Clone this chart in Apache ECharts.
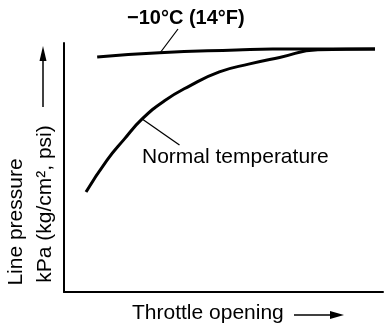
<!DOCTYPE html>
<html>
<head>
<meta charset="utf-8">
<script src="https://cdn.jsdelivr.net/npm/echarts@6/dist/echarts.min.js"></script>
<style>html,body{margin:0;padding:0;background:#fff}#c{width:384px;height:336px}</style>
</head>
<body>
<div id="c"></div>
<script>
// Throttle opening (relative %), line pressure (relative %)
var coldX = [10.4, 29.9, 54.1, 65.4, 97.5];
var coldY = [94.4, 96.1, 97.2, 97.6, 97.6];
var normalX = [6.9, 13.5, 18.9, 24.5, 31.4, 39.3, 48.7, 58.2, 67.6, 79.6, 97.5];
var normalY = [40.2, 53.0, 61.4, 69.5, 76.7, 82.7, 88.4, 91.6, 94.2, 97.3, 97.6];
var coldLabel = '\u221210\u00B0C (14\u00B0F)';
var normalLabel = 'Normal temperature';
var xName = 'Throttle opening';
var yName1 = 'Line pressure';
var yName2 = 'kPa (kg/cm\u00B2, psi)';
// leader line in data coordinates
var normalLeader = [[24.5, 69.5], [36.2, 59.0]];

function pairs(xs, ys){ return xs.map(function(x,i){return [x, ys[i]];}); }

var chart = echarts.init(document.getElementById('c'), null, {renderer:'canvas'});
var font = 'Liberation Sans, Arial, Helvetica, sans-serif';
chart.setOption({
  animation: false,
  backgroundColor: '#fff',
  grid: {left: 64, right: 1, top: 43, bottom: 44},
  xAxis: {type:'value', min:0, max:100, axisLine:{show:true, onZero:false, lineStyle:{color:'#000', width:2}},
          axisTick:{show:false}, axisLabel:{show:false}, splitLine:{show:false}},
  yAxis: {type:'value', min:0, max:100, axisLine:{show:true, onZero:false, lineStyle:{color:'#000', width:2}},
          axisTick:{show:false}, axisLabel:{show:false}, splitLine:{show:false}},
  series: [
    {type:'line', data: pairs(coldX, coldY), smooth:true, showSymbol:false,
     lineStyle:{color:'#000', width:3}, clip:false},
    {type:'line', data: pairs(normalX, normalY), smooth:true, showSymbol:false,
     lineStyle:{color:'#000', width:3}, clip:false,
     markLine:{silent:true, symbol:'none', label:{show:false}, lineStyle:{color:'#000', width:1.3, type:'solid'},
       data:[[{coord:normalLeader[0]},{coord:normalLeader[1]}]]}}
  ],
  graphic: [
    {type:'text', left:127, top:8, style:{text:coldLabel, font:'bold 20px ' + font, fill:'#000'}},
    {type:'line', shape:{x1:178, y1:29, x2:160, y2:53}, style:{stroke:'#000', lineWidth:1.2}},
    {type:'text', left:142, top:147, style:{text:normalLabel, font:'21px ' + font, fill:'#000'}},
    {type:'text', left:132, top:303, style:{text:xName, font:'21px ' + font, fill:'#000'}},
    {type:'text', x:16, y:222, rotation:Math.PI/2, style:{text:yName1, font:'21px ' + font, fill:'#000', textAlign:'center', textVerticalAlign:'middle'}},
    {type:'text', x:45, y:204, rotation:Math.PI/2, style:{text:yName2, font:'21px ' + font, fill:'#000', textAlign:'center', textVerticalAlign:'middle'}},
    {type:'line', shape:{x1:43, y1:107, x2:43, y2:58}, style:{stroke:'#000', lineWidth:1.5}},
    {type:'polygon', shape:{points:[[43,46],[39.5,61],[46.5,61]]}, style:{fill:'#000'}},
    {type:'line', shape:{x1:294, y1:315, x2:334, y2:315}, style:{stroke:'#000', lineWidth:1.5}},
    {type:'polygon', shape:{points:[[344,315],[330,311],[330,319]]}, style:{fill:'#000'}}
  ]
});
</script>
</body>
</html>
